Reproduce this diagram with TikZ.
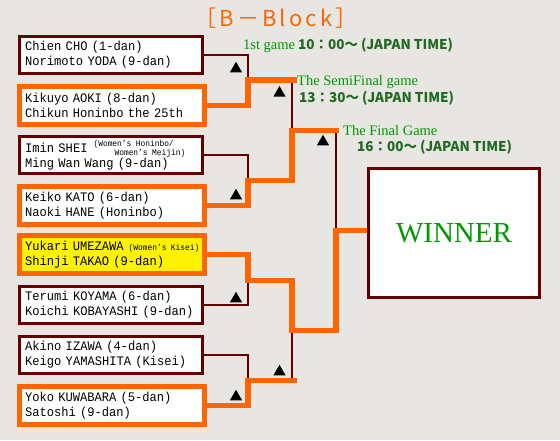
\documentclass[tikz,border=0pt]{standalone}
\usepackage{fontspec}
\usetikzlibrary{shapes.geometric}
\newfontfamily\boxfont[FakeStretch=0.93]{Liberation Mono}
\newfontfamily\seriffont{Liberation Serif}
\newfontfamily\jpfont{Noto Sans CJK JP}
\newfontfamily\titlefont[LetterSpace=14]{Noto Sans CJK JP}
\definecolor{bg}{HTML}{E7E6E2}
\definecolor{maroon}{HTML}{660000}
\definecolor{org}{HTML}{FF6600}
\definecolor{ttlgreen}{HTML}{009900}
\definecolor{timegreen}{HTML}{1F6A1F}
\newcommand{\smallmono}{\boxfont\fontsize{8.5}{9}\selectfont}
\begin{document}
\begin{tikzpicture}[x=1pt,y=-1pt,
  boxtext/.style={align=left, font=\boxfont\fontsize{13}{15}\selectfont},
  darkbox/.style={boxtext, draw=maroon, line width=2.7pt, fill=white,
    minimum width=183pt, minimum height=37.3pt, inner xsep=5.65pt, inner ysep=0pt, text width=171.7pt},
  orgbox/.style={boxtext, draw=org, line width=5pt, fill=white,
    minimum width=185pt, minimum height=38pt, inner xsep=5.5pt, inner ysep=0pt, text width=174pt},
  darkline/.style={draw=maroon, line width=2.2pt},
  orgline/.style={draw=org, line width=5.3pt},
  tri/.style={regular polygon, regular polygon sides=3, fill=black, minimum size=14pt, inner sep=0pt},
  gamelbl/.style={anchor=base west, inner sep=0pt, text=ttlgreen, font=\seriffont\fontsize{14.5}{15}\selectfont},
  timelbl/.style={anchor=base west, inner sep=0pt, text=timegreen, font=\jpfont\bfseries\fontsize{13.5}{14}\selectfont},
]
\fill[bg] (0,0) rectangle (560,440);
\useasboundingbox (0,0) rectangle (560,440);

% title
\node[anchor=base, inner sep=0pt, text=org, font=\titlefont\fontsize{22}{22}\selectfont] (title) at (276,26) {［B－Block］};

% player boxes
\node[darkbox] (b1) at (111,55) {Chien CHO (1-dan)\\Norimoto YODA (9-dan)};
\node[orgbox] (b2) at (112,105.5) {Kikuyo AOKI (8-dan)\\Chikun Honinbo the 25th};
\node[darkbox] (b3) at (111,155) {Imin SHEI\rlap{\hspace{6pt}\raisebox{5.7pt}{\smallmono(Women’s Honinbo/}}\rlap{\hspace{27pt}\raisebox{-3.3pt}{\smallmono Women’s Meijin)}}\\Ming Wan Wang (9-dan)};
\node[orgbox] (b4) at (112,205.5) {Keiko KATO (6-dan)\\Naoki HANE (Honinbo)};
\node[orgbox, fill=yellow] (b5) at (112,254.5) {Yukari UMEZAWA\rlap{\hspace{5pt}\smallmono(Women’s Kisei)}\\Shinji TAKAO (9-dan)};
\node[darkbox] (b6) at (111,305) {Terumi KOYAMA (6-dan)\\Koichi KOBAYASHI (9-dan)};
\node[darkbox] (b7) at (111,355) {Akino IZAWA (4-dan)\\Keigo YAMASHITA (Kisei)};
\node[orgbox] (b8) at (112,405.5) {Yoko KUWABARA (5-dan)\\Satoshi (9-dan)};

% winner
\node[draw=maroon, line width=3pt, fill=white, minimum width=171pt, minimum height=129pt, inner sep=0pt,
  text=ttlgreen, font=\seriffont\fontsize{29}{29}\selectfont] (W) at (454,233) {WINNER};

% junctions
\coordinate (j1) at (248,80);
\coordinate (j1e) at (297,80);
\coordinate (j2) at (248,180.5);
\coordinate (s1) at (292,130.5);
\coordinate (s1e) at (339,130.5);
\coordinate (j3) at (248,280.5);
\coordinate (j4) at (248,380.5);
\coordinate (j4e) at (297,380.5);
\coordinate (s2) at (292,330.5);
\coordinate (f) at (336,230.5);

% losing paths
\draw[darkline] (b1.east) -| (j1);
\draw[darkline] (b3.east) -| (j2);
\draw[darkline] (b6.east) -| (j3);
\draw[darkline] (b7.east) -| (j4);
\draw[darkline] (j1 -| s1) -- (s1);
\draw[darkline] (j4 -| s2) -- (s2);
\draw[darkline] (s1 -| f) -- (f);

% winning paths
\draw[orgline] (b2.east) -| (j1) -- (j1e);
\draw[orgline] (b4.east) -| (j2) -| (s1) -- (s1e);
\draw[orgline] (b5.east) -| (j3) -| (s2) -| (f) -- (f -| W.west);
\draw[orgline] (b8.east) -| (j4) -- (j4e);

% triangles
\node[tri] (t1) at (236,68.75) {};
\node[tri] (t2) at (279.5,93) {};
\node[tri] (t3) at (236,195.75) {};
\node[tri] (t4) at (236,298.75) {};
\node[tri] (t5) at (279.5,371.75) {};
\node[tri] (t6) at (236,396.75) {};
\node[tri] (t7) at (323,141.75) {};

% labels
\node[gamelbl] (g1) at (243,49) {1st game};
\node[timelbl] (tm1) at (298,49) {10：00～ (JAPAN TIME)};
\node[gamelbl] (g2) at (297,85) {The SemiFinal game};
\node[timelbl] (tm2) at (299,102.5) {13：30～ (JAPAN TIME)};
\node[gamelbl] (g3) at (343,135) {The Final Game};
\node[timelbl] (tm3) at (357,151.5) {16：00～ (JAPAN TIME)};
\end{tikzpicture}
\end{document}
